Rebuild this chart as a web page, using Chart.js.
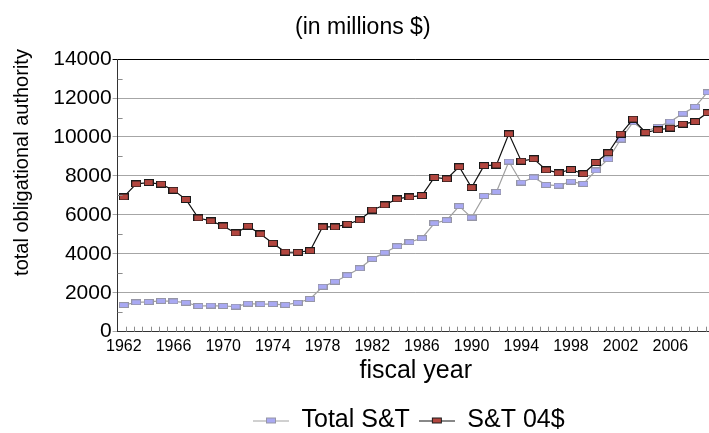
<!DOCTYPE html>
<html>
<head>
<meta charset="utf-8">
<script src="https://cdn.jsdelivr.net/npm/chart.js@4"></script>
<style>
html,body{margin:0;padding:0;background:#fff;overflow:hidden;}
#wrap{width:720px;height:433px;}
</style>
</head>
<body>
<div id="wrap"><canvas id="c" width="720" height="433"></canvas></div>
<script>
const years = [1962,1963,1964,1965,1966,1967,1968,1969,1970,1971,1972,1973,1974,1975,1976,1977,1978,1979,1980,1981,1982,1983,1984,1985,1986,1987,1988,1989,1990,1991,1992,1993,1994,1995,1996,1997,1998,1999,2000,2001,2002,2003,2004,2005,2006,2007,2008,2009];
const totalST = [1370,1510,1530,1580,1560,1490,1320,1340,1320,1290,1440,1420,1420,1380,1490,1680,2310,2570,2900,3260,3740,4060,4390,4600,4800,5570,5730,6450,5860,6970,7180,8740,7660,7920,7540,7500,7710,7590,8280,8860,9870,10760,10280,10520,10790,11200,11550,12300];
const st04 = [6920,7590,7660,7580,7270,6790,5840,5690,5430,5070,5420,5020,4540,4090,4080,4160,5380,5380,5520,5740,6250,6510,6820,6920,6990,7920,7850,8470,7400,8530,8560,10160,8760,8880,8310,8160,8330,8110,8690,9190,10150,10920,10230,10370,10460,10660,10790,11250];
const tickYears = [1962,1966,1970,1974,1978,1982,1986,1990,1994,1998,2002,2006];
const seriesNames = ['Total S&T','S&T 04$'];
const titleText = '(in millions $)';
const xTitle = 'fiscal year';
const yTitle = 'total obligational authority';

const FONT = "'Liberation Sans', Arial, Helvetica, sans-serif";

function makeMarker(w, h, fill, stroke) {
  const c = document.createElement('canvas');
  c.width = w; c.height = h;
  const g = c.getContext('2d');
  g.fillStyle = stroke; g.fillRect(0, 0, w, h);
  g.fillStyle = fill; g.fillRect(1, 1, w - 2, h - 2);
  return c;
}
function makeLegendSample(lineColor, mw, mh, fill, stroke) {
  const W = 36, H = 8;
  const c = document.createElement('canvas');
  c.width = W; c.height = H;
  const g = c.getContext('2d');
  const mx = Math.round((W - mw) / 2), my = Math.round((H - mh) / 2);
  g.fillStyle = lineColor;
  g.fillRect(0, 4, mx, 1);
  g.fillRect(mx + mw, 4, W - mx - mw, 1);
  g.fillStyle = stroke; g.fillRect(mx, my, mw, mh);
  g.fillStyle = fill; g.fillRect(mx + 1, my + 1, mw - 2, mh - 2);
  return c;
}
const BLUE_FILL = '#A9A9F3', BLUE_EDGE = '#9696A6', BLUE_LINE = '#A0A0A0';
const RED_FILL = '#B2463F', RED_EDGE = '#1A1A1A', RED_LINE = '#111111';
const blueMarker = makeMarker(10, 6, BLUE_FILL, BLUE_EDGE);
const redMarker = makeMarker(10, 7, RED_FILL, RED_EDGE);
const blueLegend = makeLegendSample(BLUE_LINE, 10, 6, BLUE_FILL, BLUE_EDGE);
const redLegend = makeLegendSample(RED_LINE, 10, 6, RED_FILL, RED_EDGE);

const decor = {
  id: 'decor',
  afterLayout(chart) {
    const lg = chart.legend;
    if (lg) { lg.left += 50; lg.right += 50; lg.top += 10; lg.bottom += 10; }
    const t = chart.titleBlock;
    if (t) { t.left += 4; t.right += 4; }
  },
  afterDraw(chart) {
    const ctx = chart.ctx;
    const xs = chart.scales.x, ys = chart.scales.y;
    ctx.save();
    ctx.strokeStyle = '#8C8C8C';
    ctx.lineWidth = 1;
    for (let v = 1000; v < 14000; v += 2000) {
      const py = Math.round(ys.getPixelForValue(v)) + 0.5;
      ctx.beginPath(); ctx.moveTo(xs.left, py); ctx.lineTo(xs.left + 5, py); ctx.stroke();
    }
    const n = 72;
    for (let k = 1; k <= n; k++) {
      const px = Math.round(xs.getPixelForDecimal(k / n)) + 0.5;
      ctx.beginPath(); ctx.moveTo(px, ys.bottom); ctx.lineTo(px, ys.bottom - 5); ctx.stroke();
    }
    ctx.fillStyle = '#000';
    ctx.font = '20px ' + FONT;
    ctx.textAlign = 'center';
    ctx.textBaseline = 'middle';
    ctx.translate(22, 162.5);
    ctx.rotate(-Math.PI / 2);
    ctx.fillText(yTitle, 0, 0);
    ctx.restore();
  }
};

new Chart(document.getElementById('c'), {
  type: 'line',
  data: {
    labels: years,
    datasets: [
      { label: seriesNames[0], data: totalST, borderColor: BLUE_LINE, borderWidth: 1.2,
        pointStyle: blueMarker, pointRadius: 5, backgroundColor: BLUE_FILL, tension: 0, order: 2 },
      { label: seriesNames[1], data: st04, borderColor: RED_LINE, borderWidth: 1.2,
        pointStyle: redMarker, pointRadius: 5, backgroundColor: RED_FILL, tension: 0, order: 1 }
    ]
  },
  options: {
    responsive: false,
    animation: false,
    devicePixelRatio: 1,
    events: [],
    layout: { padding: { left: 0, right: 2.4, top: 0, bottom: 0 } },
    plugins: {
      title: { display: true, text: titleText, color: '#000',
        font: { family: FONT, size: 23, weight: 'normal' }, padding: { top: 14, bottom: 17.5 } },
      legend: { display: true, position: 'bottom',
        labels: { usePointStyle: true, pointStyleWidth: 36, padding: 9, color: '#000',
          font: { family: FONT, size: 25 },
          sort: (a, b) => a.datasetIndex - b.datasetIndex,
          generateLabels: (chart) => chart.data.datasets.map((d, i) => ({
            text: d.label, datasetIndex: i, pointStyle: i === 0 ? blueLegend : redLegend,
            fillStyle: d.backgroundColor, strokeStyle: d.borderColor, lineWidth: 0, hidden: false, fontColor: '#000'
          }))
        } },
      tooltip: { enabled: false }
    },
    scales: {
      x: {
        type: 'category',
        offset: true,
        grid: { display: false, drawTicks: false },
        border: { display: true, color: '#333333', width: 1 },
        ticks: { autoSkip: false, maxRotation: 0, minRotation: 0, padding: 5, color: '#000',
          font: { family: FONT, size: 16 },
          callback: function(val, idx) { const y = years[idx]; return tickYears.includes(y) ? String(y) : ''; } },
        title: { display: true, text: xTitle, color: '#000', font: { family: FONT, size: 25 }, padding: { top: 0, bottom: 3 } },
        afterFit: (s) => { s.height = 57.3; }
      },
      y: {
        min: 0, max: 14000,
        grid: { drawTicks: true, tickLength: 5, lineWidth: 1,
          color: (c) => (c.tick && c.tick.value === 14000) ? '#000000' : '#A6A6A6' },
        border: { display: true, color: '#333333', width: 1 },
        ticks: { stepSize: 2000, padding: 1, color: '#000', font: { family: FONT, size: 21 },
          callback: (v) => String(v) },
        afterFit: (s) => { s.width = 117.6; }
      }
    }
  },
  plugins: [decor]
});
</script>
</body>
</html>
